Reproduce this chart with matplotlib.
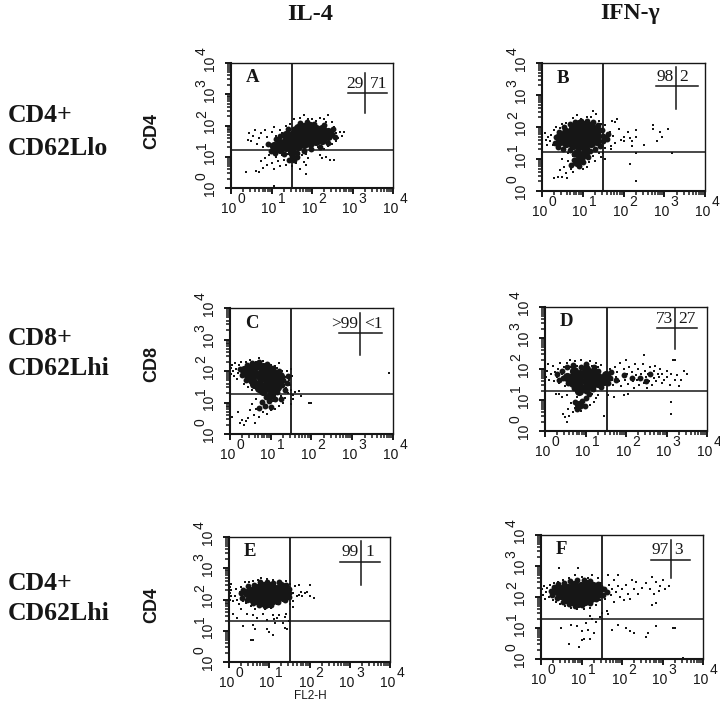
import matplotlib
matplotlib.use('Agg')
import matplotlib.pyplot as plt
from matplotlib.ticker import FixedLocator, NullFormatter
from matplotlib.transforms import ScaledTranslation

# log10 positions: core = dense part of each cloud, mid = its rim, spots = loose dots
a_core = [(1.05,1.35),(1.2,1.25),(1.2,1.45),(1.35,1.3),(1.35,1.5),(1.35,1.7),(1.5,1.3),(1.5,1.5),(1.5,1.7),(1.65,1.35),
          (1.65,1.55),(1.65,1.75),(1.65,1.92),(1.8,1.4),(1.8,1.6),(1.8,1.8),(1.8,1.95),(1.95,1.45),(1.95,1.65),(1.95,1.85),
          (1.95,2.0),(2.1,1.5),(2.1,1.7),(2.1,1.88),(2.25,1.55),(2.25,1.75),(2.25,1.88),(2.4,1.65),(2.4,1.8),(1.5,1.15)]
a_mid = [(0.92,1.42),(0.98,1.2),(1.08,1.12),(1.1,1.58),(1.22,1.65),(1.3,1.08),(1.4,1.88),(1.5,1.02),(1.55,1.9),(1.62,1.12),
         (1.7,2.08),(1.8,1.2),(1.88,2.12),(1.98,1.25),(2.05,2.05),(2.2,1.32),(2.3,2.02),(2.4,1.45),(2.5,1.72),(2.52,1.9),
         (2.58,1.62),(1.55,0.9),(1.62,0.98),(1.42,0.9)]
a_spots = [(0.38,0.5),(0.62,0.55),(0.7,0.52),(0.8,0.65),(0.75,0.85),(0.85,0.95),(0.9,0.75),(0.95,1.05),(1.0,0.8),(1.05,0.62),
           (1.1,1.0),(1.15,0.85),(1.2,0.7),(1.25,1.05),(1.3,0.9),(1.35,0.75),(1.4,1.1),(1.45,0.85),(1.5,0.7),(1.55,1.0),
           (1.6,0.8),(1.65,0.95),(1.7,0.62),(1.75,1.05),(1.8,0.82),(1.85,0.75),(1.85,1.1),(1.9,0.95),(1.85,0.45),(2.2,1.05),
           (2.25,0.95),(2.35,1.0),(2.45,0.9),(2.55,0.9),(0.43,1.55),(0.45,1.75),(0.5,1.5),(0.55,1.65),(0.6,1.85),(0.65,1.42),
           (0.7,1.6),(0.75,1.75),(0.8,1.3),(0.85,1.85),(0.9,1.62),(0.95,1.45),(1.0,1.78),(1.05,1.95),(1.1,1.65),(1.2,1.85),
           (1.25,1.75),(1.35,1.98),(1.45,2.05),(1.55,2.2),(1.7,2.25),(1.8,2.35),(1.9,2.2),(2.0,2.2),(2.1,2.15),(2.2,2.25),
           (2.3,2.2),(2.35,2.1),(2.4,2.35),(2.5,2.1),(2.55,1.95),(2.6,1.75),(2.65,1.6),(2.7,1.8),(2.75,1.65),(2.8,1.8),
           (2.6,1.5),(2.5,1.4),(2.4,1.35),(2.3,1.25),(2.15,1.3),(1.05,0.05)]

b_core = [(0.45,1.55),(0.45,1.72),(0.6,1.5),(0.6,1.68),(0.6,1.85),(0.75,1.45),(0.75,1.62),(0.75,1.8),(0.75,1.98),(0.9,1.4),
          (0.9,1.58),(0.9,1.75),(0.9,1.93),(0.9,2.08),(1.05,1.35),(1.05,1.52),(1.05,1.7),(1.05,1.88),(1.05,2.05),(1.2,1.5),
          (1.2,1.68),(1.2,1.85),(1.2,2.02),(1.35,1.55),(1.35,1.72),(1.35,1.9),(0.85,1.2),(0.95,1.05),(1.05,1.18),(0.85,0.92)]
b_mid = [(0.32,1.5),(0.34,1.68),(0.4,1.38),(0.42,1.85),(0.52,1.32),(0.55,2.0),(0.68,1.28),(0.68,2.08),(0.82,2.15),(0.95,2.2),
         (1.1,2.18),(1.25,2.15),(1.38,2.05),(1.48,1.9),(1.5,1.72),(1.5,1.55),(1.42,1.4),(1.3,1.32),(1.18,1.25),(1.12,1.05),
         (1.0,0.9),(0.92,0.78),(0.78,0.98),(0.78,1.15),(0.72,0.82),(1.6,1.62),(1.62,1.78)]
b_spots = [(0.08,1.8),(0.1,1.6),(0.15,1.7),(0.12,1.45),(0.2,1.55),(0.22,1.75),(0.28,1.45),(0.3,1.9),(0.35,2.0),(0.4,1.35),
           (0.45,1.98),(0.5,2.1),(0.55,1.3),(0.6,2.12),(0.75,2.28),(0.85,2.38),(0.95,2.25),(1.1,2.3),(1.2,2.3),(1.25,2.5),
           (1.32,2.4),(1.4,2.2),(1.45,2.08),(1.5,1.85),(1.55,2.05),(1.6,1.7),(1.62,1.55),(1.68,1.85),(1.7,1.4),(1.75,1.72),
           (1.8,2.15),(1.8,1.5),(1.9,1.95),(1.72,2.2),(1.85,2.25),(1.7,1.3),(1.55,1.35),(1.5,1.18),(1.45,1.05),(1.4,1.2),
           (1.55,1.0),(1.3,0.95),(1.25,1.1),(1.15,0.9),(1.1,0.75),(1.0,0.7),(0.75,0.6),(0.72,0.8),(0.65,0.95),(0.6,0.55),
           (0.55,0.75),(0.5,1.0),(0.45,0.65),(0.4,0.45),(0.48,0.45),(0.3,0.4),(0.62,0.4),(0.7,0.7),(0.75,1.1),(0.65,1.2),
           (2.0,1.7),(2.02,1.55),(1.95,1.6),(2.1,1.85),(2.15,1.65),(2.2,1.55),(2.2,1.4),(2.3,1.9),(2.3,1.7),(2.5,1.45),
           (2.72,2.05),(2.72,1.95),(2.9,1.85),(2.95,1.7),(2.82,1.55),(3.1,1.95),(2.3,1.2),(2.15,0.85),(2.3,0.3),(3.2,1.2)]

c_core = [(0.35,2.02),(0.45,1.88),(0.5,2.08),(0.55,1.72),(0.62,1.92),(0.65,2.15),(0.7,1.6),(0.75,1.78),(0.78,1.98),(0.82,2.12),
          (0.85,1.52),(0.9,1.7),(0.92,1.88),(0.95,2.05),(1.0,1.42),(1.03,1.6),(1.05,1.78),(1.08,1.95),(1.15,1.5),(1.18,1.68),
          (0.72,1.45),(0.6,1.6),(1.22,1.85),(0.8,1.35),(1.0,1.25)]
c_mid = [(0.25,2.05),(0.3,1.88),(0.4,1.72),(0.42,2.2),(0.55,2.25),(0.72,2.28),(0.9,2.22),(1.05,2.1),(1.2,2.0),(1.3,1.72),
         (1.28,1.55),(1.15,1.32),(1.1,1.12),(0.95,1.05),(0.88,1.18),(0.85,0.9),(0.78,1.02),(0.7,0.82),(1.0,0.85),(1.42,1.85),
         (1.4,1.62),(1.35,1.4),(1.25,1.1)]
c_spots = [(0.02,2.1),(0.03,1.9),(0.06,2.2),(0.08,2.0),(0.1,1.85),(0.12,2.25),(0.15,2.05),(0.18,1.75),(0.2,1.95),(0.22,2.2),
           (0.28,2.3),(0.3,1.8),(0.35,1.6),(0.4,2.3),(0.45,1.5),(0.5,2.35),(0.55,1.4),(0.65,2.3),(0.7,2.4),(0.8,2.32),
           (0.9,2.25),(1.0,2.2),(1.1,2.15),(1.15,2.1),(1.2,2.25),(1.28,2.0),(1.3,1.6),(1.35,1.8),(1.38,1.45),(1.4,2.0),
           (1.42,1.3),(1.45,1.7),(1.48,1.55),(1.5,2.05),(1.5,1.4),(1.52,1.85),(1.55,1.25),(1.6,1.32),(1.7,1.35),(1.75,1.22),
           (1.55,1.1),(1.5,0.95),(1.35,1.15),(1.3,1.0),(1.25,1.2),(1.2,0.9),(1.15,1.1),(1.1,0.8),(1.05,1.05),(1.0,0.75),
           (0.95,1.15),(0.9,0.62),(0.85,0.9),(0.8,0.7),(0.75,1.0),(0.7,0.55),(0.65,0.8),(0.6,0.6),(0.65,1.1),(0.55,0.95),
           (0.5,0.75),(0.45,0.5),(0.4,0.4),(0.3,0.45),(0.25,0.35),(0.35,0.3),(0.05,0.55),(0.2,0.7),(0.62,0.35),(1.95,1.0),
           (2.0,1.0),(2.0,1.0),(3.9,1.95)]

d_core = [(0.55,1.75),(0.7,1.55),(0.7,1.75),(0.72,1.95),(0.85,1.45),(0.85,1.65),(0.87,1.85),(1.0,1.4),(1.0,1.6),(1.02,1.8),
          (1.02,2.0),(1.15,1.5),(1.15,1.7),(1.18,1.9),(1.3,1.55),(1.32,1.75),(1.45,1.6),(1.5,1.8),(0.85,1.3),(0.85,0.85)]
d_mid = [(0.3,1.85),(0.35,1.65),(0.42,1.95),(0.45,1.72),(0.55,2.05),(0.58,1.55),(0.7,2.12),(0.72,1.4),(0.88,2.08),(1.0,1.28),
         (1.02,2.15),(1.18,1.35),(1.2,2.05),(1.32,1.95),(1.38,1.42),(1.55,1.55),(1.6,1.72),(1.62,1.9),(1.75,1.65),(1.95,1.8),
         (2.15,1.7),(2.35,1.72),(2.5,1.62),(2.6,1.85),(1.0,1.05),(0.92,0.98),(0.78,0.72),(0.75,0.95),(1.08,1.18),(0.98,0.82)]
d_spots = [(0.03,1.75),(0.05,1.95),(0.08,2.15),(0.1,1.65),(0.15,1.85),(0.2,2.1),(0.22,1.6),(0.25,1.9),(0.3,1.75),(0.32,2.0),
           (0.35,1.55),(0.38,2.2),(0.42,1.85),(0.45,1.65),(0.48,2.05),(0.5,1.45),(0.55,2.2),(0.6,1.5),(0.62,2.3),(0.65,2.05),
           (0.75,2.25),(0.8,2.1),(0.9,2.3),(1.0,2.2),(1.1,2.25),(1.15,2.1),(1.25,2.2),(1.3,2.05),(1.38,2.12),(1.4,1.45),
           (1.6,2.0),(1.62,1.85),(1.65,1.65),(1.68,1.5),(1.72,2.05),(1.75,1.75),(1.78,1.9),(1.82,1.6),(1.85,2.18),(1.88,1.45),
           (1.92,1.8),(1.95,2.0),(1.98,1.65),(2.02,1.85),(2.05,1.52),(2.08,2.05),(2.12,1.72),(2.15,1.9),(2.18,1.6),(2.2,1.4),
           (2.22,2.15),(2.25,1.8),(2.28,1.65),(2.3,2.0),(2.33,1.48),(2.36,1.85),(2.4,1.7),(2.42,2.15),(2.45,1.55),(2.48,1.95),
           (2.5,1.75),(2.52,1.4),(2.55,1.85),(2.58,1.62),(2.6,2.05),(2.62,1.78),(2.65,1.5),(2.68,1.92),(2.7,1.7),(2.72,2.1),
           (2.75,1.6),(2.78,1.85),(2.82,1.75),(2.85,2.0),(2.88,1.55),(2.9,1.85),(2.95,1.65),(3.0,1.95),(3.02,1.75),(3.08,1.5),
           (3.12,1.85),(3.15,2.3),(3.22,2.3),(3.2,1.65),(3.25,1.8),(3.3,1.45),(3.35,1.65),(3.42,1.95),(3.5,1.85),(2.0,2.3),
           (2.45,2.45),(3.1,0.95),(3.1,0.55),(1.55,1.15),(1.7,1.1),(1.95,1.15),(2.05,1.2),(1.45,0.5),(1.3,1.15),(1.25,1.05),
           (1.2,0.95),(1.15,1.2),(1.1,0.85),(1.05,1.1),(1.0,0.75),(0.95,1.0),(0.9,0.65),(0.8,1.1),(0.75,0.75),(0.7,0.6),
           (0.65,0.9),(0.6,0.5),(0.58,0.7),(0.55,1.15),(0.5,0.45),(0.45,0.55),(0.42,1.1),(0.55,0.3),(0.35,1.2),(0.28,1.2)]

e_core = [(0.45,2.2),(0.55,2.05),(0.58,2.28),(0.68,2.0),(0.7,2.18),(0.72,2.36),(0.82,1.92),(0.84,2.1),(0.85,2.28),(0.87,2.44),
          (0.96,1.9),(0.98,2.08),(1.0,2.26),(1.0,2.42),(1.1,1.98),(1.12,2.16),(1.14,2.34),(1.24,2.08),(1.26,2.26),(1.28,2.42),
          (1.38,2.15),(1.4,2.32)]
e_mid = [(0.3,2.2),(0.33,2.05),(0.35,2.32),(0.45,1.98),(0.48,2.42),(0.6,1.88),(0.62,2.48),(0.75,1.82),(0.78,2.55),(0.9,1.78),
         (0.95,2.55),(1.05,1.82),(1.1,2.52),(1.22,1.92),(1.25,2.55),(1.38,2.0),(1.42,2.48),(1.5,2.2),(1.5,2.35),(1.5,2.08)]
e_spots = [(0.02,2.0),(0.02,2.2),(0.03,2.4),(0.05,2.1),(0.06,2.3),(0.04,2.5),(0.1,1.95),(0.15,2.1),(0.18,2.35),(0.2,2.0),
           (0.25,1.85),(0.28,2.25),(0.3,2.4),(0.32,2.05),(0.35,1.95),(0.4,2.55),(0.42,1.88),(0.5,2.55),(0.55,1.8),(0.6,2.6),
           (0.65,1.7),(0.72,2.62),(0.8,2.7),(0.9,1.7),(0.95,2.65),(1.05,1.72),(1.1,2.62),(1.2,1.85),(1.25,2.6),(1.35,1.95),
           (1.42,2.6),(1.45,2.05),(1.48,2.4),(1.5,2.15),(1.52,2.5),(1.55,2.3),(1.58,1.95),(1.6,2.2),(1.65,2.42),(1.7,2.1),
           (1.75,2.15),(1.78,2.25),(1.82,2.1),(1.88,2.2),(1.95,2.25),(2.0,2.45),(2.02,2.1),(1.75,2.45),(2.1,2.05),(0.1,1.55),
           (0.2,1.4),(0.3,1.7),(0.45,1.55),(0.6,1.5),(0.7,1.42),(0.85,1.55),(0.95,1.35),(1.1,1.5),(1.12,1.38),(1.15,1.25),
           (1.2,1.42),(1.25,1.5),(1.38,1.45),(1.42,1.55),(1.4,1.1),(1.45,1.05),(1.35,1.25),(1.5,1.3),(0.35,1.15),(0.6,1.2),
           (0.65,1.05),(0.6,0.7),(0.55,0.7),(0.95,1.05),(1.0,0.95),(1.1,0.85),(1.52,1.85),(1.6,1.75)]

f_core = [(0.4,2.2),(0.5,2.05),(0.52,2.25),(0.62,1.95),(0.64,2.12),(0.66,2.3),(0.76,1.88),(0.78,2.05),(0.8,2.22),(0.82,2.4),
          (0.92,1.82),(0.94,2.0),(0.96,2.18),(0.98,2.36),(1.08,1.88),(1.1,2.06),(1.12,2.24),(1.14,2.42),(1.24,1.98),(1.26,2.16),
          (1.28,2.34),(1.4,2.1),(1.42,2.28)]
f_mid = [(0.25,2.2),(0.28,2.05),(0.32,2.32),(0.4,1.98),(0.42,2.42),(0.55,1.85),(0.58,2.45),(0.7,1.78),(0.72,2.52),(0.85,1.72),
         (0.9,2.55),(1.02,1.75),(1.05,2.55),(1.2,1.82),(1.22,2.52),(1.35,1.92),(1.4,2.42),(1.52,2.05),(1.55,2.25),(1.62,2.15)]
f_spots = [(0.02,2.25),(0.05,2.05),(0.07,2.35),(0.1,1.95),(0.12,2.15),(0.15,2.3),(0.2,2.0),(0.22,2.4),(0.25,2.15),(0.3,1.9),
           (0.32,2.45),(0.38,1.85),(0.42,2.5),(0.48,1.78),(0.55,2.55),(0.6,1.7),(0.7,2.62),(0.75,1.65),(0.85,2.7),(0.9,1.6),
           (0.92,2.95),(1.0,2.65),(1.05,1.6),(0.45,2.95),(1.15,2.62),(1.2,1.65),(1.25,2.7),(1.35,1.75),(1.4,2.6),(1.45,1.9),
           (1.48,2.45),(1.52,2.1),(1.55,2.3),(1.58,1.95),(1.62,2.2),(1.65,2.7),(1.68,2.4),(1.72,2.05),(1.75,2.25),(1.8,1.85),
           (1.8,2.55),(1.85,2.15),(1.9,2.35),(1.95,2.0),(1.9,2.7),(2.0,2.25),(2.05,1.9),(2.1,2.4),(2.15,2.1),(2.2,1.95),
           (2.25,2.55),(2.3,2.25),(2.35,2.5),(2.4,2.1),(2.5,2.3),(2.6,2.45),(2.7,2.25),(2.75,2.65),(2.78,2.1),(2.85,2.5),
           (2.92,2.2),(2.95,2.35),(3.0,2.55),(3.05,2.25),(3.15,2.35),(2.75,1.75),(2.85,1.82),(1.2,1.4),(1.25,1.3),(1.35,1.2),
           (1.45,1.35),(1.5,1.5),(1.62,1.55),(1.65,1.45),(0.5,1.0),(0.75,1.1),(0.9,1.05),(1.0,0.9),(1.15,0.95),(1.1,1.15),
           (0.7,0.5),(0.95,0.4),(1.0,0.6),(1.05,0.65),(1.2,0.65),(1.3,0.85),(1.75,0.95),(1.9,1.1),(2.1,1.0),(2.2,0.9),
           (2.3,0.85),(2.6,0.7),(2.65,0.85),(2.85,1.05),(3.25,1.0),(3.3,1.0),(3.5,0.02)]

panel_names = ['A', 'B', 'C', 'D', 'E', 'F']
panel_cores = [a_core, b_core, c_core, d_core, e_core, f_core]
panel_mids = [a_mid, b_mid, c_mid, d_mid, e_mid, f_mid]
panel_spots = [a_spots, b_spots, c_spots, d_spots, e_spots, f_spots]
gate_x = [1.5, 1.49, 1.49, 1.52, 1.52, 1.5]
gate_y = [1.21, 1.21, 1.28, 1.28, 1.32, 1.29]
left_pct = ['29', '98', '>99', '73', '99', '97']
right_pct = ['71', '2', '<1', '27', '1', '3']
tick_powers = [0, 1, 2, 3, 4]
minor_steps = [2, 3, 4, 5, 6, 7, 8, 9]

W, H = 720, 710

# panel boxes in pixels: left, right, top, bottom
boxes = [(231, 393, 63, 188), (542, 705, 63, 191),
         (230, 393, 308, 434), (545, 707, 307, 431),
         (229, 390, 537, 662), (541, 703, 535, 659)]
# key cross in axes fraction: x0, x1, y of bar, x of stem, y0, y1
crosses = [(0.72, 0.965, 0.76, 0.83, 0.6, 0.92), (0.70, 0.96, 0.82, 0.82, 0.64, 0.97),
           (0.67, 0.93, 0.80, 0.80, 0.63, 0.96), (0.69, 0.94, 0.83, 0.80, 0.66, 0.99),
           (0.69, 0.94, 0.80, 0.82, 0.62, 0.97), (0.68, 0.92, 0.80, 0.80, 0.65, 0.96)]

plt.rcParams['font.family'] = ['Liberation Sans', 'DejaVu Sans']
fig = plt.figure(figsize=(W / 100, H / 100), dpi=100)
INK = '#161616'


def px_text(x, y, s, **kw):
    # place text by picture pixels
    fig.text(x / W, 1 - y / H, s, color=INK, **kw)


for i, box in enumerate(boxes):
    left, right, top, bottom = box
    ax = fig.add_axes([left / W, 1 - bottom / H, (right - left) / W, (bottom - top) / H])
    ax.set_xscale('log')
    ax.set_yscale('log')
    ax.set_xlim(1, 1e4)
    ax.set_ylim(1, 1e4)

    core = panel_cores[i]
    mid = panel_mids[i]
    spots = panel_spots[i]
    ax.scatter([10 ** p[0] for p in core], [10 ** p[1] for p in core], s=44, c=INK, lw=0, zorder=2)
    ax.scatter([10 ** p[0] for p in mid], [10 ** p[1] for p in mid], s=18, c=INK, lw=0, zorder=2)
    ax.scatter([10 ** p[0] for p in spots], [10 ** p[1] for p in spots], s=2.6, c=INK, marker='s', lw=0, zorder=2)

    ax.axvline(10 ** gate_x[i], color=INK, lw=1.3, zorder=3)
    ax.axhline(10 ** gate_y[i], color=INK, lw=1.1, zorder=3)

    for side in ['top', 'right']:
        ax.spines[side].set_linewidth(1.0)
    for side in ['left', 'bottom']:
        ax.spines[side].set_linewidth(1.5)
    for spine in ax.spines.values():
        spine.set_color(INK)

    major = [10 ** p for p in tick_powers]
    minor = [float(s * 10 ** p) for p in tick_powers[:-1] for s in minor_steps]
    ax.set_xticks(major)
    ax.set_yticks(major)
    ax.xaxis.set_minor_locator(FixedLocator(minor))
    ax.yaxis.set_minor_locator(FixedLocator(minor))
    ax.set_xticklabels(['10'] * 5, fontsize=10, color=INK)
    ax.set_yticklabels(['10'] * 5, fontsize=10, color=INK, rotation=90, va='center')
    ax.tick_params(which='major', length=4.5, width=1.4, color=INK, pad=5.5)
    ax.tick_params(which='minor', length=3, width=1.1, color=INK)
    ax.xaxis.set_minor_formatter(NullFormatter())
    ax.yaxis.set_minor_formatter(NullFormatter())

    # the base sits a little left of its tick
    shift = ScaledTranslation(-2 / 72, 0, fig.dpi_scale_trans)
    for label in ax.get_xticklabels():
        label.set_transform(label.get_transform() + shift)

    # exponents sit almost as large as the base, so they are separate texts
    for p in tick_powers:
        ax.annotate(str(p), xy=(10 ** p, 0), xycoords=('data', 'axes fraction'), xytext=(4.5, -8),
                    textcoords='offset points', fontsize=10, color=INK, ha='left', va='center')
        ax.annotate(str(p), xy=(0, 10 ** p), xycoords=('axes fraction', 'data'), xytext=(-21, 5.5),
                    textcoords='offset points', fontsize=10, color=INK, ha='center', va='bottom', rotation=90)

    x0, x1, ybar, xstem, y0, y1 = crosses[i]
    ax.plot([x0, x1], [ybar, ybar], color=INK, lw=1.1, transform=ax.transAxes, zorder=3)
    ax.plot([xstem, xstem], [y0, y1], color=INK, lw=1.1, transform=ax.transAxes, zorder=3)
    ax.text(xstem - 0.012, ybar + 0.012, left_pct[i], transform=ax.transAxes, ha='right', va='bottom',
            family='Liberation Serif', fontsize=12.5, color=INK)
    ax.text(xstem + 0.025, ybar + 0.012, right_pct[i], transform=ax.transAxes, ha='left', va='bottom',
            family='Liberation Serif', fontsize=12.5, color=INK)
    ax.text(0.09, 0.88, panel_names[i], transform=ax.transAxes, ha='left', va='center',
            family='Liberation Serif', weight='bold', fontsize=13.5, color=INK)

serif = dict(family='Liberation Serif', weight='bold', fontsize=18.5, ha='left', va='baseline')
px_text(8, 122, 'CD4+', **serif)
px_text(8, 155, 'CD62Llo', **serif)
px_text(8, 345, 'CD8+', **serif)
px_text(8, 375, 'CD62Lhi', **serif)
px_text(8, 590, 'CD4+', **serif)
px_text(8, 620, 'CD62Lhi', **serif)

px_text(310, 14, 'IL-4', family='Liberation Serif', weight='bold', fontsize=17.5, ha='center', va='center')
px_text(630, 14, 'IFN-γ', family='Liberation Serif', weight='bold', fontsize=17, ha='center', va='center')

ylab = dict(weight='bold', fontsize=13, rotation=90, ha='center', va='center')
px_text(152, 131, 'CD4', **ylab)
px_text(152, 364, 'CD8', **ylab)
px_text(152, 605, 'CD4', **ylab)
px_text(310, 696, 'FL2-H', fontsize=8.5, ha='center', va='center')

fig.savefig('out.png', dpi=100)
